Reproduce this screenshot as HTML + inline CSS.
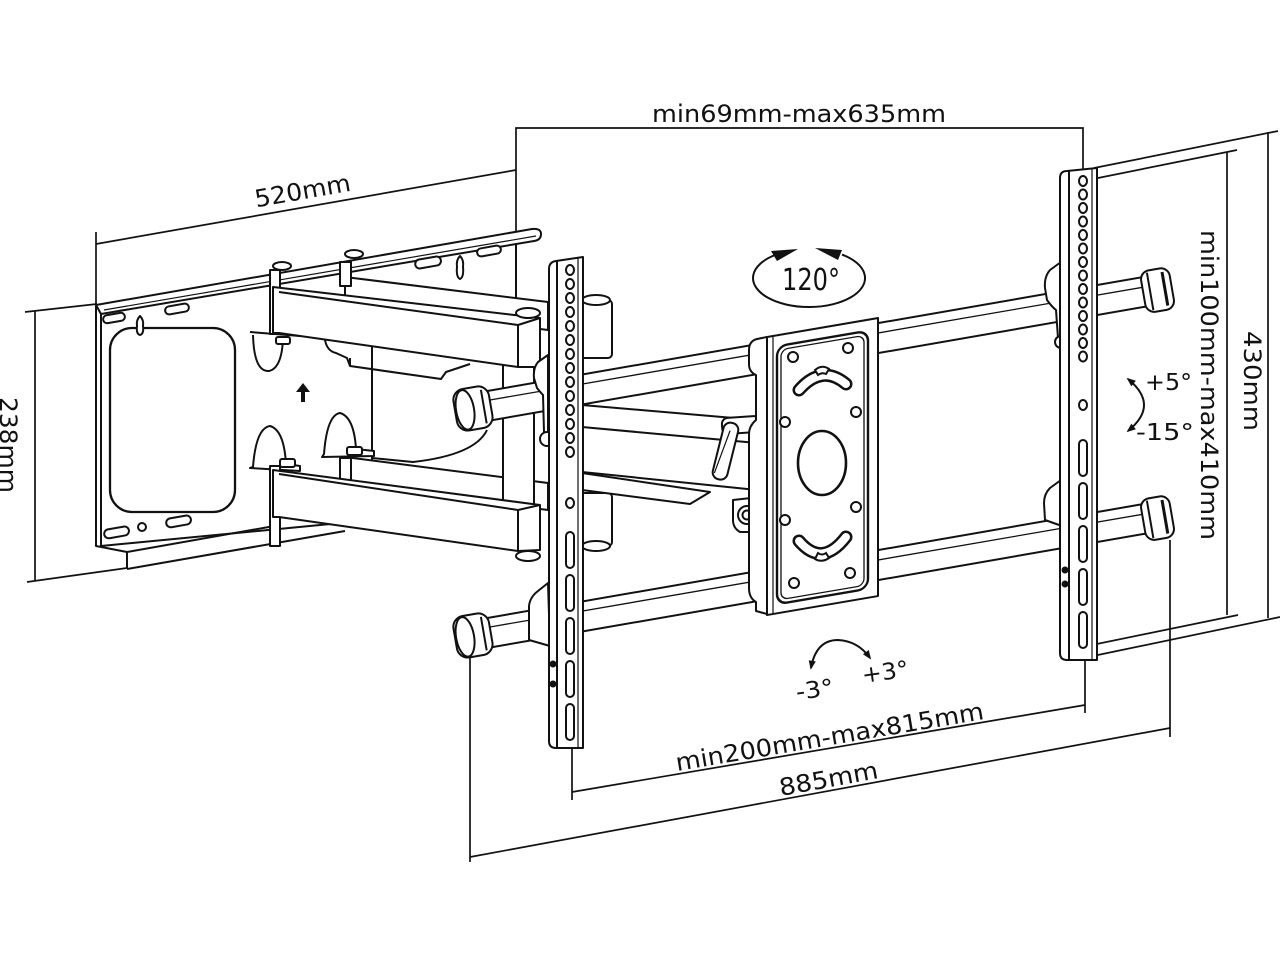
<!DOCTYPE html>
<html><head><meta charset="utf-8"><style>
html,body{margin:0;padding:0;background:#fff;}
svg{display:block}
text{font-family:"DejaVu Sans","Liberation Sans",sans-serif;fill:#111;stroke:none}
</style></head><body>
<svg width="1280" height="960" viewBox="0 0 1280 960" xmlns="http://www.w3.org/2000/svg">
<defs>
<marker id="ah" viewBox="0 0 10 10" refX="8" refY="5" markerWidth="11" markerHeight="9" orient="auto-start-reverse" markerUnits="userSpaceOnUse"><path d="M0,1 L10,5 L0,9 Z" fill="#111"/></marker>
</defs>
<rect width="1280" height="960" fill="#fff"/>

<!-- ================= DIMENSION LINES ================= -->
<g fill="none" stroke="#111" stroke-width="1.7">
<polyline points="516,300 516,128 1083,128 1083,172"/>
<line x1="96" y1="244" x2="516" y2="170"/>
<line x1="96" y1="232" x2="96" y2="305"/>
<line x1="35" y1="311" x2="35" y2="581"/>
<line x1="25" y1="312" x2="97" y2="304"/>
<line x1="27" y1="582" x2="127" y2="568"/>
<line x1="1094" y1="168" x2="1278" y2="131"/>
<line x1="1268" y1="132" x2="1268" y2="618"/>
<line x1="1083" y1="181" x2="1237" y2="150"/>
<line x1="1227" y1="152" x2="1227" y2="615"/>
<line x1="1087" y1="646" x2="1238" y2="615"/>
<line x1="1093" y1="656" x2="1280" y2="617"/>
<line x1="572" y1="792" x2="1085" y2="705"/>
<line x1="572" y1="746" x2="572" y2="800"/>
<line x1="1085" y1="660" x2="1085" y2="713"/>
<line x1="470" y1="857" x2="1170" y2="728"/>
<line x1="470" y1="658" x2="470" y2="862"/>
<line x1="1170" y1="540" x2="1170" y2="737"/>
</g>

<!-- ================= WALL PLATE ================= -->
<g fill="#fff" stroke="#111" stroke-width="2" stroke-linejoin="round">
<polygon points="101,312 516,240 516,300 372,330 372,520 101,546"/>
<polyline fill="none" points="96,305 96,546 127,552 127,569"/>
<line x1="101" y1="313" x2="101" y2="546"/>
<line x1="127" y1="552" x2="280" y2="525"/>
<line x1="127" y1="569" x2="345" y2="531"/>
<path d="M96,305 L532,229 Q541,228 541,234 Q541,240 534,241 L101,314 Z"/>
<line x1="104" y1="310" x2="536" y2="236" stroke-width="1.2"/>
<ellipse cx="282" cy="266" rx="9" ry="4"/>
<ellipse cx="354" cy="254" rx="9" ry="4"/>
<rect x="110" y="328" width="125" height="184" rx="22" stroke-width="2.3"/>
<rect x="103" y="314" width="22" height="8" rx="4" transform="rotate(-10 114 318)"/>
<path d="M140,316 Q136,320 137,326 Q136,334 140,335 Q144,334 143,326 Q144,320 140,316 Z"/>
<rect x="165" y="305" width="24" height="8" rx="4" transform="rotate(-10 177 309)"/>
<rect x="104" y="528" width="25" height="9" rx="4.5" transform="rotate(-10 116 532)"/>
<circle cx="142" cy="527" r="4"/>
<rect x="166" y="517" width="25" height="9" rx="4.5" transform="rotate(-10 178 521)"/>
<rect x="415" y="258" width="26" height="9" rx="4.5" transform="rotate(-10 428 262)"/>
<path d="M460,256 Q456,260 457,267 Q456,277 460,279 Q464,277 463,267 Q464,260 460,256 Z"/>
<rect x="477" y="247" width="24" height="8" rx="4" transform="rotate(-10 489 251)"/>
<path fill="none" d="M372,368 L372,458 L413,462 Q475,455 487,430"/>
<line x1="250" y1="332" x2="300" y2="336"/>
<path fill="none" d="M253,335 Q254,372 269,371 Q282,368 283,338"/>
<path d="M250,468 L300,471 L300,466 L286,464 Q284,430 270,426 Q256,428 253,467 Z"/>
<path d="M322,457 L374,456 L374,451 L356,449 Q354,417 340,413 Q327,415 324,454 Z"/>
<path fill="none" d="M325,340 Q327,351 336,353 L347,358 L350,366 L441,379 L446,372 L455,369 L470,364"/>
<line x1="350" y1="366" x2="350" y2="358" />
</g>
<path d="M303,383 L296,392 L301,392 L301,402 L305,402 L305,392 L310,392 Z" fill="#111"/>

<!-- ================= ARMS ================= -->
<g fill="#fff" stroke="#111" stroke-width="2" stroke-linejoin="round">
<polygon points="345,277 548,302 548,330 345,304"/>
<rect x="340" y="262" width="11" height="24"/>
<polygon points="345,457 548,483 548,510 345,484"/>
<rect x="340" y="458" width="11" height="22"/>
<rect x="503" y="360" width="31" height="150"/>
<rect x="270" y="270" width="10" height="64"/>
<polygon points="273,287 540,318 540,367 518,367 279,333 273,333"/>
<polyline fill="none" points="279,292 518,325 540,318"/>
<line x1="518" y1="325" x2="518" y2="367"/>
<ellipse cx="528" cy="313" rx="12" ry="5"/>
<rect x="270" y="466" width="10" height="80"/>
<polygon points="273,470 540,505 540,550 518,551 279,517 273,517"/>
<polyline fill="none" points="279,474 518,510 540,505"/>
<line x1="518" y1="510" x2="518" y2="551"/>
<ellipse cx="528" cy="556" rx="12" ry="5"/>
<rect x="276" y="337" width="14" height="7" rx="2"/>
<rect x="280" y="459" width="15" height="8" rx="2"/>
<rect x="347" y="447" width="15" height="8" rx="2"/>
<rect x="580" y="300" width="32" height="58" rx="4"/>
<ellipse cx="596" cy="300" rx="14" ry="5"/>
<rect x="580" y="493" width="32" height="53" rx="4"/>
<ellipse cx="596" cy="546" rx="14" ry="5"/>
<polygon points="582,405 757,420 757,490 582,472"/>
<line x1="582" y1="427" x2="757" y2="443"/>
<path d="M582,473 L710,492 L690,504 L582,490 Z"/>
<rect x="722" y="417" width="38" height="16" rx="6" transform="rotate(-4 741 425)"/>
<rect x="718" y="422" width="15" height="58" rx="7" transform="rotate(14 725 451)"/>
<line x1="725" y1="430" x2="720" y2="475" stroke-width="1.2" transform="rotate(14 725 451)"/>
<path d="M733,500 L760,497 L760,532 L740,532 Q733,528 733,520 Z"/>
<circle cx="747" cy="515" r="9"/>
<circle cx="747" cy="515" r="4.5"/>
</g>

<!-- ================= RODS ================= -->
<g fill="#fff" stroke="#111" stroke-width="2" stroke-linejoin="round">
<polygon points="470,394 1155,275 1155,305 470,424"/>
<line x1="490" y1="400" x2="1150" y2="286" stroke-width="1.3"/>
<polygon points="470,621 1155,502 1155,532 470,651"/>
<line x1="490" y1="627" x2="1150" y2="513" stroke-width="1.3"/>
<g transform="rotate(-9.8 470 409)">
<rect x="455" y="388" width="36" height="42" rx="11"/>
<ellipse cx="465" cy="409" rx="9" ry="20"/>
<line x1="484" y1="392" x2="484" y2="426"/>
</g>
<g transform="rotate(-9.8 470 636)">
<rect x="455" y="615" width="36" height="42" rx="11"/>
<ellipse cx="465" cy="636" rx="9" ry="20"/>
<line x1="484" y1="619" x2="484" y2="653"/>
</g>
<g transform="rotate(-9.8 1158 290)">
<rect x="1143" y="269" width="29" height="42" rx="9"/>
<line x1="1150" y1="271" x2="1150" y2="309"/>
<line x1="1165" y1="273" x2="1165" y2="307" stroke-width="3"/>
</g>
<g transform="rotate(-9.8 1158 518)">
<rect x="1143" y="497" width="29" height="42" rx="9"/>
<line x1="1150" y1="499" x2="1150" y2="537"/>
<line x1="1165" y1="501" x2="1165" y2="535" stroke-width="3"/>
</g>
</g>

<!-- ================= LEFT BRACKET ================= -->
<g fill="#fff" stroke="#111" stroke-width="2" stroke-linejoin="round">
<path d="M548,355 L538,362 Q533,368 534,378 L537,388 Q541,393 543,395 L544,432 L548,440 Z"/>
<circle cx="547" cy="439" r="7"/>
<path d="M548,583 L538,591 Q530,597 529,606 L529,640 L550,646 Z"/>
<path d="M549,269 Q549,262 556,261 L583,257 L583,748 L556,748 Q549,748 549,741 Z"/>
<line x1="557" y1="261" x2="557" y2="748"/>
<line x1="578" y1="258" x2="578" y2="748" stroke-width="1.2"/>
<circle cx="553" cy="664" r="2.5" fill="#111"/>
<circle cx="553" cy="684" r="2.5" fill="#111"/>
</g>
<g fill="#fff" stroke="#111" stroke-width="2">
<ellipse cx="570" cy="270" rx="4" ry="5"/><ellipse cx="570" cy="284" rx="4" ry="5"/>
<ellipse cx="570" cy="298" rx="4" ry="5"/><ellipse cx="570" cy="312" rx="4" ry="5"/>
<ellipse cx="570" cy="326" rx="4" ry="5"/><ellipse cx="570" cy="340" rx="4" ry="5"/>
<ellipse cx="570" cy="354" rx="4" ry="5"/><ellipse cx="570" cy="368" rx="4" ry="5"/>
<ellipse cx="570" cy="382" rx="4" ry="5"/><ellipse cx="570" cy="396" rx="4" ry="5"/>
<ellipse cx="570" cy="410" rx="4" ry="5"/><ellipse cx="570" cy="424" rx="4" ry="5"/>
<ellipse cx="570" cy="438" rx="4" ry="5"/><ellipse cx="570" cy="452" rx="4" ry="5"/>
<ellipse cx="570" cy="503" rx="4" ry="5"/>
<rect x="566" y="532" width="8" height="36" rx="4"/>
<rect x="566" y="575" width="8" height="36" rx="4"/>
<rect x="566" y="618" width="8" height="36" rx="4"/>
<rect x="566" y="661" width="8" height="36" rx="4"/>
<rect x="566" y="704" width="8" height="36" rx="4"/>
</g>

<!-- ================= RIGHT BRACKET ================= -->
<g fill="#fff" stroke="#111" stroke-width="2" stroke-linejoin="round">
<path d="M1061,262 L1050,270 Q1044,277 1045,288 L1047,300 Q1052,307 1056,310 L1058,338 L1062,344 Z"/>
<circle cx="1061" cy="342" r="6"/>
<path d="M1061,480 L1050,488 Q1044,494 1044,503 L1045,520 L1062,526 Z"/>
<path d="M1060,178 Q1060,171 1067,171 L1097,168 L1097,660 L1067,660 Q1060,660 1060,653 Z"/>
<line x1="1069" y1="171" x2="1069" y2="660"/>
<line x1="1092" y1="169" x2="1092" y2="660" stroke-width="1.2"/>
<circle cx="1065" cy="570" r="2.5" fill="#111"/>
<circle cx="1065" cy="584" r="2.5" fill="#111"/>
</g>
<g fill="#fff" stroke="#111" stroke-width="2">
<ellipse cx="1083" cy="181" rx="4" ry="5"/><ellipse cx="1083" cy="194.5" rx="4" ry="5"/>
<ellipse cx="1083" cy="208" rx="4" ry="5"/><ellipse cx="1083" cy="221.5" rx="4" ry="5"/>
<ellipse cx="1083" cy="235" rx="4" ry="5"/><ellipse cx="1083" cy="248.5" rx="4" ry="5"/>
<ellipse cx="1083" cy="262" rx="4" ry="5"/><ellipse cx="1083" cy="275.5" rx="4" ry="5"/>
<ellipse cx="1083" cy="289" rx="4" ry="5"/><ellipse cx="1083" cy="302.5" rx="4" ry="5"/>
<ellipse cx="1083" cy="316" rx="4" ry="5"/><ellipse cx="1083" cy="329.5" rx="4" ry="5"/>
<ellipse cx="1083" cy="343" rx="4" ry="5"/><ellipse cx="1083" cy="356.5" rx="4" ry="5"/>
<ellipse cx="1083" cy="405" rx="4" ry="5"/>
<rect x="1079" y="440" width="8" height="36" rx="4"/>
<rect x="1079" y="483" width="8" height="36" rx="4"/>
<rect x="1079" y="526" width="8" height="36" rx="4"/>
<rect x="1079" y="569" width="8" height="36" rx="4"/>
<rect x="1079" y="612" width="8" height="36" rx="4"/>
</g>

<!-- ================= CENTER PLATE ================= -->
<g fill="#fff" stroke="#111" stroke-width="2" stroke-linejoin="round">
<path d="M767,337 L757,339 Q749,341 749,350 L749,364 Q749,372 756,375 L756,420 Q749,426 749,434 L749,588 Q749,598 756,602 L756,611 L767,614 Z"/>
<g transform="translate(767 337) skewY(-9.7)">
<rect x="0" y="0" width="111" height="278"/>
<line x1="6" y1="0" x2="6" y2="278" stroke-width="1.2"/>
<rect x="10" y="11" width="91" height="258" rx="10" stroke-width="2.4"/>
<rect x="14" y="15" width="83" height="250" rx="7" stroke-width="1.3"/>
</g>
<ellipse cx="822" cy="463" rx="24" ry="32" stroke-width="2.6"/>
<circle cx="793" cy="357" r="5"/>
<circle cx="848" cy="348" r="5"/>
<circle cx="785" cy="422" r="5"/>
<circle cx="856" cy="412" r="5"/>
<circle cx="785" cy="520" r="5"/>
<circle cx="856" cy="507" r="5"/>
<circle cx="794" cy="583" r="5"/>
<circle cx="850" cy="573" r="5"/>
</g>
<g fill="none" stroke-linecap="round">
<path d="M799,390 Q822,364 846,384" stroke="#111" stroke-width="13"/>
<path d="M799,390 Q822,364 846,384" stroke="#fff" stroke-width="8"/>
<path d="M799,541 Q822,568 846,537" stroke="#111" stroke-width="13"/>
<path d="M799,541 Q822,568 846,537" stroke="#fff" stroke-width="8"/>
</g>
<g fill="#fff" stroke="#111" stroke-width="2">
<path d="M815,370 Q822,364 829,369 L826,374 Q822,372 818,375 Z"/>
<path d="M815,559 Q822,563 829,558 L826,553 Q822,556 818,553 Z"/>
</g>

<!-- ================= ARROWS ================= -->
<g fill="none" stroke="#111" stroke-width="2">
<path d="M775,255 A56,29 0 1,0 842,254.6"/>
<path d="M1128,379 Q1160,405 1128,431" marker-start="url(#ah)" marker-end="url(#ah)"/>
<path d="M811,668 Q816,640 838,640 Q858,641 870,658" marker-start="url(#ah)" marker-end="url(#ah)"/>
</g>
<polygon points="798,249 771,251 777,261" fill="#111"/>
<polygon points="815,248 842,250 838,260" fill="#111"/>

<!-- ================= TEXT ================= -->
<text x="652" y="122" font-size="24" textLength="294" lengthAdjust="spacingAndGlyphs">min69mm-max635mm</text>
<text x="304" y="199" font-size="24" text-anchor="middle" textLength="97" lengthAdjust="spacingAndGlyphs" transform="rotate(-10 304 199)">520mm</text>
<text x="0" y="445" font-size="24" text-anchor="middle" textLength="96" lengthAdjust="spacingAndGlyphs" transform="rotate(90 0 445)">238mm</text>
<text x="1201" y="385" font-size="24" text-anchor="middle" textLength="310" lengthAdjust="spacingAndGlyphs" transform="rotate(90 1201 385)">min100mm-max410mm</text>
<text x="1244" y="381" font-size="24" text-anchor="middle" textLength="100" lengthAdjust="spacingAndGlyphs" transform="rotate(90 1244 381)">430mm</text>
<text x="811" y="290" font-size="30" text-anchor="middle" textLength="58" lengthAdjust="spacingAndGlyphs">120°</text>
<text x="1145" y="390" font-size="23" textLength="47" lengthAdjust="spacingAndGlyphs">+5°</text>
<text x="1136" y="440" font-size="23" textLength="58" lengthAdjust="spacingAndGlyphs">-15°</text>
<text x="797" y="700" font-size="23" textLength="38" lengthAdjust="spacingAndGlyphs" transform="rotate(-8 797 700)">-3°</text>
<text x="863" y="683" font-size="23" textLength="47" lengthAdjust="spacingAndGlyphs" transform="rotate(-8 863 683)">+3°</text>
<text x="831" y="745" font-size="24" text-anchor="middle" textLength="312" lengthAdjust="spacingAndGlyphs" transform="rotate(-9.6 831 745)">min200mm-max815mm</text>
<text x="830" y="787" font-size="24" text-anchor="middle" textLength="100" lengthAdjust="spacingAndGlyphs" transform="rotate(-10.4 830 787)">885mm</text>
</svg>
</body></html>
